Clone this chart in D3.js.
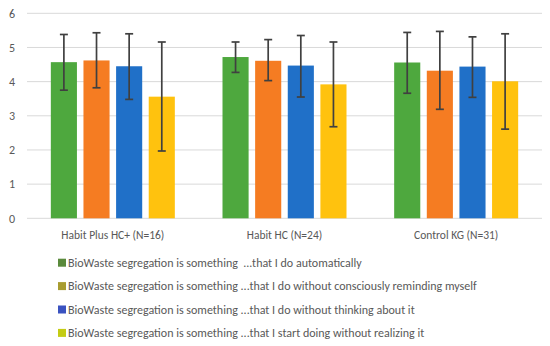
<!DOCTYPE html>
<html>
<head>
<meta charset="utf-8">
<script src="https://cdn.jsdelivr.net/npm/d3@7"></script>
<style>
html,body{margin:0;padding:0;background:#fff;}
svg{display:block;font-family:Calibri,Carlito,"Open Sans","Noto Sans",sans-serif;}
</style>
</head>
<body>
<svg id="chart" width="550" height="346"></svg>
<script>
const categories = ["Habit Plus HC+ (N=16)", "Habit HC (N=24)", "Control KG (N=31)"];
const seriesNames = [
  "BioWaste segregation is something  ...that I do automatically",
  "BioWaste segregation is something ...that I do without consciously reminding myself",
  "BioWaste segregation is something ...that I do without thinking about it",
  "BioWaste segregation is something ...that I start doing without realizing it"
];
const barColors = ["#4ea83e", "#f57c22", "#2070c8", "#ffc20e"];
const swatchColors = ["#5a8a3c", "#a89c30", "#3a52c0", "#c4cc14"];
// means per series (rows) per category (columns)
const means = [
  [4.57, 4.72, 4.56],
  [4.62, 4.61, 4.32],
  [4.45, 4.47, 4.44],
  [3.56, 3.92, 4.01]
];
// error bar ends
const errHigh = [
  [5.38, 5.16, 5.44],
  [5.43, 5.23, 5.47],
  [5.40, 5.35, 5.31],
  [5.16, 5.16, 5.40]
];
const errLow = [
  [3.75, 4.27, 3.66],
  [3.82, 4.03, 3.19],
  [3.48, 3.55, 3.54],
  [1.97, 2.68, 2.61]
];
const yTicks = [0, 1, 2, 3, 4, 5, 6];

const svg = d3.select("#chart");
const y = d3.scaleLinear().domain([0, 6]).range([218.3, 13.3]);
const x0 = d3.scaleBand().domain(categories).range([27, 542]).paddingInner(0).paddingOuter(0);
const groupW = 124;
const x1 = d3.scaleBand().domain(d3.range(seriesNames.length))
  .range([0, groupW]).paddingInner(0.2).paddingOuter(0);

// gridlines
svg.append("g").selectAll("line").data(yTicks).join("line")
  .attr("x1", 27).attr("x2", 542)
  .attr("y1", d => y(d)).attr("y2", d => y(d))
  .attr("stroke", "#d9d9d9").attr("stroke-width", 1);

// y axis labels
const yAxis = d3.axisLeft(y).tickValues(yTicks).tickFormat(d3.format("d")).tickSize(0).tickPadding(0);
const ya = svg.append("g").attr("transform", "translate(15,0)").call(yAxis);
ya.select(".domain").remove();
ya.selectAll("text").attr("fill", "#595959").attr("font-size", 12)
  .attr("font-family", "Calibri,Carlito,'Open Sans',sans-serif").attr("text-anchor", "end");

// bars
const data = [];
seriesNames.forEach((s, i) => categories.forEach((c, j) => {
  data.push({s: i, c: c, v: means[i][j], hi: errHigh[i][j], lo: errLow[i][j]});
}));
const bx = d => x0(d.c) + (x0.bandwidth() - groupW) / 2 + x1(d.s);
svg.append("g").selectAll("rect").data(data).join("rect")
  .attr("x", bx).attr("width", x1.bandwidth())
  .attr("y", d => y(d.v)).attr("height", d => y(0) - y(d.v))
  .attr("fill", d => barColors[d.s]);

// error bars
const eg = svg.append("g").attr("stroke", "#404040").attr("stroke-width", 1.7);
data.forEach(d => {
  const cx = bx(d) + x1.bandwidth() / 2;
  eg.append("line").attr("x1", cx).attr("x2", cx).attr("y1", y(d.hi)).attr("y2", y(d.lo));
  eg.append("line").attr("x1", cx - 4).attr("x2", cx + 4).attr("y1", y(d.hi)).attr("y2", y(d.hi));
  eg.append("line").attr("x1", cx - 4).attr("x2", cx + 4).attr("y1", y(d.lo)).attr("y2", y(d.lo));
});

// category labels
const xAxis = d3.axisBottom(x0).tickSize(0).tickPadding(0);
const xa = svg.append("g").attr("transform", "translate(0,231)").call(xAxis);
xa.select(".domain").remove();
xa.selectAll("text").attr("fill", "#595959").attr("font-size", 11.5)
  .attr("font-family", "Calibri,Carlito,'Open Sans',sans-serif");

// legend
const lg = svg.append("g");
seriesNames.forEach((s, i) => {
  const yy = 262.7 + i * 23.4;
  lg.append("rect").attr("x", 58).attr("y", yy - 4).attr("width", 8).attr("height", 8)
    .attr("fill", swatchColors[i]);
  lg.append("text").attr("x", 68).attr("y", yy).attr("dy", "0.35em")
    .attr("fill", "#595959").attr("font-size", 12)
    .attr("xml:space", "preserve")
    .style("white-space", "pre")
    .text(s);
});
</script>
</body>
</html>
